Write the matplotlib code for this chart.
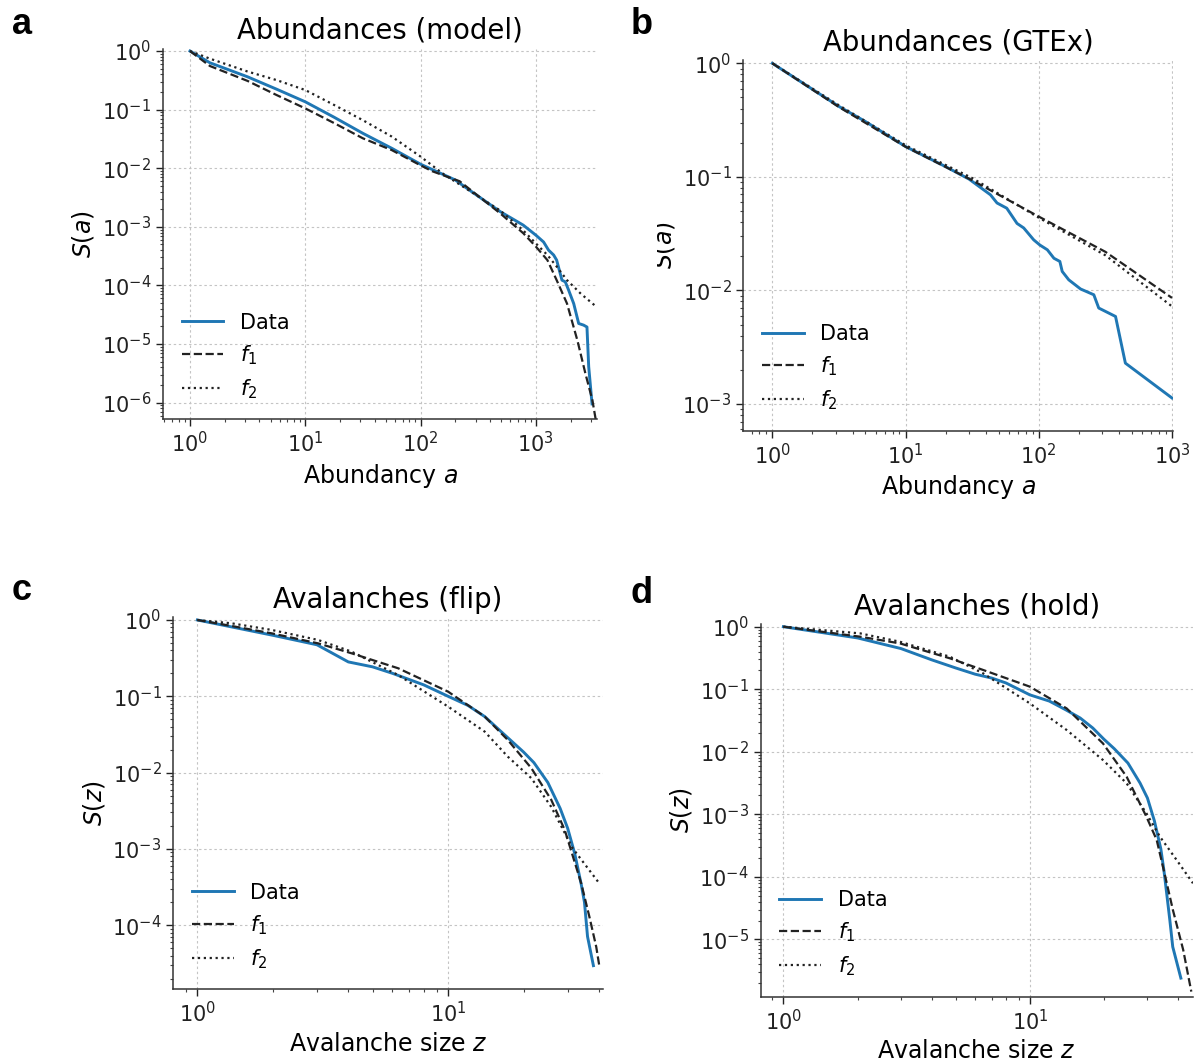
import matplotlib
matplotlib.use("Agg")
import matplotlib.pyplot as plt
import numpy as np
from matplotlib.ticker import LogLocator, NullFormatter
from matplotlib.transforms import Bbox, TransformedBbox

# --- abundances, model ---
abund_model_a = [1, 1.49, 3.16, 5.62, 10, 17.8, 31.6, 56.2, 100, 200, 251, 490, 776,
                 1000, 1167, 1288, 1426, 1514, 1683, 1799, 1923, 2128, 2350, 2594,
                 2773, 2871, 3069]
abund_model_S = [1, 0.63, 0.363, 0.224, 0.136, 0.0741, 0.0394, 0.0219, 0.0117,
                 0.0063, 0.00457, 0.00182, 0.00107, 7.2e-4, 5.5e-4, 4.0e-4, 3.3e-4,
                 2.7e-4, 1.23e-4, 1.15e-4, 8.3e-5, 4.9e-5, 2.24e-5, 2.1e-5, 1.95e-5,
                 4.1e-6, 9.5e-7]
model_f1_a = [1, 1.49, 3.16, 5.62, 10, 17.8, 31.6, 56.2, 100, 126, 218, 490, 776,
              1000, 1259, 1514, 1862, 2291, 2692, 3090, 3311]
model_f1_S = [1, 0.555, 0.309, 0.178, 0.105, 0.0589, 0.0324, 0.0204, 0.0112, 0.0089,
              0.006, 0.0017, 7.8e-4, 4.6e-4, 2.7e-4, 1.23e-4, 4.9e-5, 1.15e-5,
              3.1e-6, 1.1e-6, 5e-7]
model_f2_a = [1, 1.49, 3.16, 5.62, 10, 17.8, 31.6, 56.2, 100, 158, 490, 776, 1000,
              1259, 1514, 1862, 2455, 3311]
model_f2_S = [1, 0.741, 0.447, 0.32, 0.216, 0.12, 0.066, 0.0347, 0.0158, 0.00794,
              0.0019, 8.7e-4, 5.2e-4, 3.3e-4, 2.1e-4, 1.23e-4, 7.2e-5, 4.4e-5]

# --- abundances, GTEx ---
gtex_a = [1, 3.16, 5, 10, 20, 30, 43.4, 48.6, 57.5, 68.7, 77.1, 91.6, 102, 116, 130,
          144, 150, 168, 206, 259, 282, 377, 447, 1000]
gtex_S = [1, 0.417, 0.307, 0.185, 0.123, 0.0955, 0.0695, 0.0589, 0.053, 0.0389,
          0.0355, 0.0279, 0.0251, 0.0228, 0.0192, 0.018, 0.0147, 0.0124, 0.0103,
          0.00916, 0.007, 0.0059, 0.00229, 0.00113]
gtex_fit_a = [1, 3.16, 10, 31.6, 100, 316, 1000]
gtex_f1_S = [1, 0.412, 0.184, 0.0933, 0.0447, 0.0219, 0.0086]
gtex_f2_S = [1, 0.427, 0.19, 0.0977, 0.0437, 0.0204, 0.00724]

# --- avalanches, flip ---
flip_z = [1, 2, 3, 4, 5, 6, 8, 10, 12, 14, 17, 20, 22, 25, 28, 30, 32, 34, 35, 36, 38]
flip_S = [1, 0.63, 0.473, 0.282, 0.243, 0.2, 0.141, 0.1, 0.0759, 0.0542, 0.0302,
          0.0186, 0.0135, 0.00741, 0.00339, 0.00186, 8.7e-4, 3.39e-4, 2.0e-4,
          7.1e-5, 2.95e-5]
flip_f1_z = [1, 1.37, 1.98, 3.03, 4.12, 6.32, 10, 14, 17.3, 21.5, 25.8, 29.2, 31.5,
             34, 36.6, 39, 40.2]
flip_f1_S = [1, 0.834, 0.668, 0.494, 0.366, 0.233, 0.115, 0.0542, 0.0268, 0.0114,
             0.00439, 0.00177, 7.9e-4, 3.5e-4, 1.3e-4, 5.2e-5, 2.8e-5]
flip_f2_z = [1, 1.37, 1.98, 3.03, 4.12, 6.32, 10, 14, 17.3, 21.5, 25.8, 31.4, 40.2]
flip_f2_S = [1, 0.904, 0.74, 0.547, 0.385, 0.19, 0.0733, 0.0344, 0.0162, 0.00843,
             0.00355, 0.00102, 3.5e-4]

# --- avalanches, hold ---
hold_z = [1, 2, 3, 4, 5, 6, 7, 8, 10, 12, 14, 16, 18, 20, 22, 25, 28, 30, 32, 34,
          35, 36, 37, 38, 41]
hold_S = [1, 0.661, 0.447, 0.295, 0.219, 0.174, 0.151, 0.126, 0.0813, 0.0646,
          0.0468, 0.0347, 0.024, 0.0158, 0.0112, 0.0066, 0.00316, 0.00182, 7.9e-4,
          2.8e-4, 1.26e-4, 5.0e-5, 2.0e-5, 7.6e-6, 2.4e-6]
hold_f1_z = [1, 2.05, 2.97, 4.74, 6.47, 10, 14.1, 19.8, 24.7, 29.7, 32.7, 35.2, 38.1,
             41.9, 45.2]
hold_f1_S = [1, 0.692, 0.541, 0.312, 0.203, 0.11, 0.0494, 0.0136, 0.00399, 9.2e-4,
             3.9e-4, 1.13e-4, 2.9e-5, 6.8e-6, 1.46e-6]
hold_f2_z = [1, 2.05, 2.97, 4.74, 6.47, 10, 14.1, 19.8, 24.7, 29.7, 33.7, 39.4, 45.9]
hold_f2_S = [1, 0.782, 0.575, 0.331, 0.179, 0.0594, 0.0223, 0.00738, 0.00313,
             0.00104, 4.4e-4, 1.86e-4, 7.9e-5]

W, H = 1196, 1061
BLUE = "#1f77b4"
FIT = "#222222"

fig = plt.figure(figsize=(W / 100, H / 100), dpi=100)


def px_axes(left, top, right, bottom):
    return fig.add_axes([left / W, 1 - bottom / H, (right - left) / W, (bottom - top) / H])


def style(ax, title, xlabel, ylabel, xlim, ylim):
    ax.set_xscale("log")
    ax.set_yscale("log")
    ax.set_xlim(xlim)
    ax.set_ylim(ylim)
    for s in ("top", "right"):
        ax.spines[s].set_visible(False)
    for s in ("left", "bottom"):
        ax.spines[s].set_linewidth(1.1)
        ax.spines[s].set_color("#333333")
    ax.xaxis.set_major_locator(LogLocator(base=10, numticks=20))
    ax.yaxis.set_major_locator(LogLocator(base=10, numticks=20))
    ax.xaxis.set_minor_locator(LogLocator(base=10, subs=np.arange(2, 10), numticks=20))
    ax.yaxis.set_minor_locator(LogLocator(base=10, subs=np.arange(2, 10), numticks=20))
    ax.xaxis.set_minor_formatter(NullFormatter())
    ax.yaxis.set_minor_formatter(NullFormatter())
    ax.tick_params(which="major", labelsize=15, length=5, width=1.0, colors="#222222")
    ax.tick_params(which="minor", length=2.5, width=0.8, colors="#444444")
    ax.grid(True, which="major", color="#c4c4c4", linewidth=0.8, linestyle=(0, (2.2, 2.4)))
    ax.set_title(title, fontsize=19.8, pad=7)
    ax.set_xlabel(xlabel, fontsize=17)
    ax.set_ylabel(ylabel, fontsize=17)


def curves(ax, x, s, x1, s1, x2, s2):
    ax.plot(x, s, color=BLUE, lw=2.1, label="Data")
    ax.plot(x1, s1, color=FIT, lw=1.6, ls="--", label="$f_1$")
    ax.plot(x2, s2, color=FIT, lw=1.6, ls=":", label="$f_2$")
    ax.legend(loc="lower left", frameon=False, fontsize=15)


# a
ax_a = px_axes(163, 48.7, 597, 419.3)
curves(ax_a, abund_model_a, abund_model_S, model_f1_a, model_f1_S, model_f2_a, model_f2_S)
style(ax_a, "Abundances (model)", "Abundancy $a$", "$S(a)$",
      (10 ** -0.234, 10 ** 3.53), (10 ** -6.285, 10 ** 0.04))

# b
ax_b = px_axes(743.3, 59.9, 1173.3, 430.7)
curves(ax_b, gtex_a, gtex_S, gtex_fit_a, gtex_f1_S, gtex_fit_a, gtex_f2_S)
style(ax_b, "Abundances (GTEx)", "Abundancy $a$", "$S(a)$",
      (10 ** -0.218, 10 ** 3.01), (10 ** -3.235, 10 ** 0.03))
# the y label of this panel is cut at its left edge
ax_b.yaxis.label.set_clip_box(TransformedBbox(Bbox([[657 / W, 0], [1, 1]]), fig.transFigure))
ax_b.yaxis.label.set_clip_on(True)

# c
ax_c = px_axes(173.3, 617.3, 603, 989.3)
curves(ax_c, flip_z, flip_S, flip_f1_z, flip_f1_S, flip_f2_z, flip_f2_S)
style(ax_c, "Avalanches (flip)", "Avalanche size $z$", "$S(z)$",
      (10 ** -0.096, 10 ** 1.618), (10 ** -4.84, 10 ** 0.035))

# d
ax_d = px_axes(760.7, 624.2, 1193, 996.7)
curves(ax_d, hold_z, hold_S, hold_f1_z, hold_f1_S, hold_f2_z, hold_f2_S)
style(ax_d, "Avalanches (hold)", "Avalanche size $z$", "$S(z)$",
      (10 ** -0.092, 10 ** 1.662), (10 ** -5.917, 10 ** 0.04))

for letter, x, y in (("a", 12, 34), ("b", 631, 34), ("c", 12, 600), ("d", 631, 603)):
    fig.text(x / W, 1 - y / H, letter, fontsize=26, fontweight="bold",
             family="Liberation Sans", ha="left", va="baseline")

fig.savefig("out.png", dpi=100)
